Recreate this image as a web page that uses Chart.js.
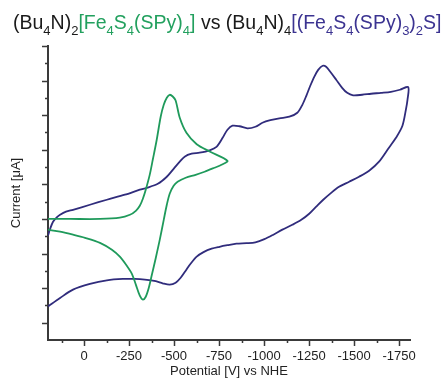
<!DOCTYPE html>
<html>
<head>
<meta charset="utf-8">
<script src="https://cdn.jsdelivr.net/npm/chart.js@4"></script>
<style>
  body { margin: 0; background: #fff; }
  #wrap { position: relative; width: 444px; height: 387px; }
  #titulo {
    position: absolute; left: 13px; top: 11px; white-space: nowrap;
    font-family: "Liberation Sans", Arial, sans-serif; font-size: 19.5px; color: #1a1a1a;
  }
  #titulo sub { font-size: 13px; vertical-align: -6px; line-height: 0; }
  .verde { color: #22a05e; }
  .azul { color: #3b3391; }
</style>
</head>
<body>
<div id="wrap">
  <canvas id="grafico" width="444" height="387"></canvas>
  <div id="titulo">(Bu<sub>4</sub>N)<sub>2</sub><span class="verde">[Fe<sub>4</sub>S<sub>4</sub>(SPy)<sub>4</sub>]</span> vs (Bu<sub>4</sub>N)<sub>4</sub><span class="azul">[(Fe<sub>4</sub>S<sub>4</sub>(SPy)<sub>3</sub>)<sub>2</sub>S]</span></div>
</div>
<script>
// ---------------------------------------------------------
// Dados (potencial em mV, corrente em unidades arbitrárias)
// ---------------------------------------------------------
const potencialMonomero = [
  200, 78, -89, -199, -255, -288, -310, -327, -343, -365, -382, -404, -426, -443, -460, -476,
  -493, -509, -532, -569, -626, -698, -797,
  -764, -725, -670, -620, -565, -520, -498, -476, -460, -443, -421, -399, -377, -360, -343,
  -327, -310, -288, -266, -238, -199, -155, -89, -6, 61, 133, 200
];
const correnteMonomero = [
  6.0, 6.0, 6.0, 6.07, 6.24, 6.47, 6.76, 7.17, 7.69, 8.55, 9.42, 10.58, 11.91, 12.6, 13.01, 13.18,
  13.08, 12.85, 11.85, 10.98, 10.32, 9.9, 9.36,
  9.13, 8.96, 8.73, 8.55, 8.38, 8.15, 7.92, 7.46, 6.82, 5.95, 4.8, 3.76, 2.77, 2.02, 1.5,
  1.33, 1.56, 2.2, 2.83, 3.29, 3.82, 4.22, 4.62, 4.91, 5.09, 5.26, 5.38
];

const potencialDimero = [
  200, 188, 172, 150, 133, 100, 61, -33, -127, -227, -310, -349, -410, -460, -498, -532,
  -559, -598, -642, -698, -736, -770, -797, -825, -864, -908, -952, -991, -1035, -1085,
  -1141, -1185, -1213, -1235, -1257, -1279, -1301, -1326, -1345, -1368, -1401, -1434,
  -1462, -1495, -1545, -1595, -1650, -1705, -1755, -1801,
  -1797, -1788, -1769, -1733, -1694, -1639, -1584, -1528, -1473, -1417, -1373, -1329,
  -1290, -1251, -1207, -1157, -1102, -1052, -1002, -952, -903, -847, -797, -753, -709,
  -664, -626, -592, -565, -537, -509, -476, -437, -399, -338, -282, -216, -127, -33, 61, 133, 200
];
const correnteDimero = [
  5.03, 5.43, 5.84, 6.1, 6.24, 6.42, 6.53, 6.82, 7.11, 7.4, 7.69, 7.8, 8.03, 8.44, 8.9, 9.31,
  9.6, 9.77, 9.83, 9.97, 10.17, 10.69, 11.16, 11.39, 11.36, 11.24, 11.33, 11.56, 11.71, 11.82,
  11.91, 12.14, 12.6, 13.12, 13.7, 14.22, 14.62, 14.86, 14.8, 14.51, 14.05, 13.58,
  13.29, 13.15, 13.18, 13.24, 13.29, 13.35, 13.47, 13.62,
  12.89, 12.31, 11.39, 10.69, 10.12, 9.31, 8.79, 8.44, 8.15, 7.86, 7.51, 7.11,
  6.71, 6.3, 5.95, 5.66, 5.38, 5.09, 4.83, 4.65, 4.6, 4.57, 4.48, 4.39, 4.28,
  4.08, 3.82, 3.41, 3.01, 2.6, 2.31, 2.2, 2.28, 2.4, 2.49, 2.53, 2.53, 2.45, 2.24, 1.91, 1.43, 0.94
];

// marcas dos eixos
const ticksPotencial = [125, 0, -125, -250, -375, -500, -625, -750, -875, -1000, -1125,
  -1250, -1375, -1500, -1625, -1750];
const ticksCorrente = [0, 1, 2, 3, 4, 5, 6, 7, 8, 9, 10, 11, 12, 13, 14, 15, 16];

const COR_EIXO = "#3a3a3a";
const FONTE = "'Liberation Sans', Arial, sans-serif";

function pontos(xs, ys) {
  return xs.map((x, i) => ({ x: x, y: ys[i] }));
}

// ---------------------------------------------------------
// Marcas maiores e menores desenhadas a partir das escalas
// ---------------------------------------------------------
const marcasEixos = {
  id: "marcasEixos",
  afterDraw(chart) {
    const ctx = chart.ctx;
    const sx = chart.scales.x;
    const sy = chart.scales.y;
    const area = chart.chartArea;
    ctx.save();
    ctx.strokeStyle = COR_EIXO;
    ctx.lineWidth = 1.5;
    ctx.beginPath();
    ticksPotencial.forEach((v) => {
      const px = Math.round(sx.getPixelForValue(v)) + 0.5;
      const len = v % 250 === 0 ? 6 : 3;
      ctx.moveTo(px, area.bottom);
      ctx.lineTo(px, area.bottom + len);
    });
    ticksCorrente.forEach((v) => {
      const py = Math.round(sy.getPixelForValue(v)) + 0.5;
      const len = v % 2 === 0 ? 6 : 3;
      ctx.moveTo(area.left, py);
      ctx.lineTo(area.left - len, py);
    });
    ctx.stroke();
    ctx.restore();
  },
};

new Chart(document.getElementById("grafico"), {
  type: "scatter",
  data: {
    datasets: [
      {
        label: "[Fe4S4(SPy)4]",
        data: pontos(potencialMonomero, correnteMonomero),
        showLine: true,
        borderColor: "#1f9a5b",
        borderWidth: 1.8,
        pointRadius: 0,
        tension: 0.3,
      },
      {
        label: "[(Fe4S4(SPy)3)2S]",
        data: pontos(potencialDimero, correnteDimero),
        showLine: true,
        borderColor: "#302c7c",
        borderWidth: 1.8,
        pointRadius: 0,
        tension: 0.3,
      },
    ],
  },
  options: {
    responsive: false,
    animation: false,
    devicePixelRatio: 1,
    layout: { padding: { top: 46, right: 34, left: 0, bottom: 0 } },
    plugins: { legend: { display: false }, tooltip: { enabled: false } },
    scales: {
      x: {
        type: "linear",
        reverse: true,
        min: -1811,
        max: 200,
        afterBuildTicks: (s) => { s.ticks = ticksPotencial.map((v) => ({ value: v })); },
        afterFit: (s) => { s.height = 47; },
        border: { display: true, color: COR_EIXO, width: 2 },
        grid: { display: true, drawOnChartArea: false, tickLength: 6, tickColor: "rgba(0,0,0,0)" },
        ticks: {
          padding: 3,
          color: "#222",
          font: { family: FONTE, size: 13 },
          maxRotation: 0,
          autoSkip: false,
          callback: (v) => (v % 250 === 0 ? String(v) : ""),
        },
        title: {
          display: true,
          text: "Potential [V] vs NHE",
          color: "#222",
          font: { family: FONTE, size: 13 },
          padding: { top: 0, bottom: 8 },
        },
      },
      y: {
        type: "linear",
        min: -1,
        max: 16,
        afterBuildTicks: (s) => { s.ticks = ticksCorrente.map((v) => ({ value: v })); },
        afterFit: (s) => { s.width = 48; },
        border: { display: true, color: COR_EIXO, width: 2 },
        grid: { display: false },
        ticks: { display: false },
        title: {
          display: true,
          text: "Current [μA]",
          color: "#222",
          font: { family: FONTE, size: 13 },
          padding: { top: 9, bottom: 0 },
        },
      },
    },
  },
  plugins: [marcasEixos],
});
</script>
</body>
</html>
